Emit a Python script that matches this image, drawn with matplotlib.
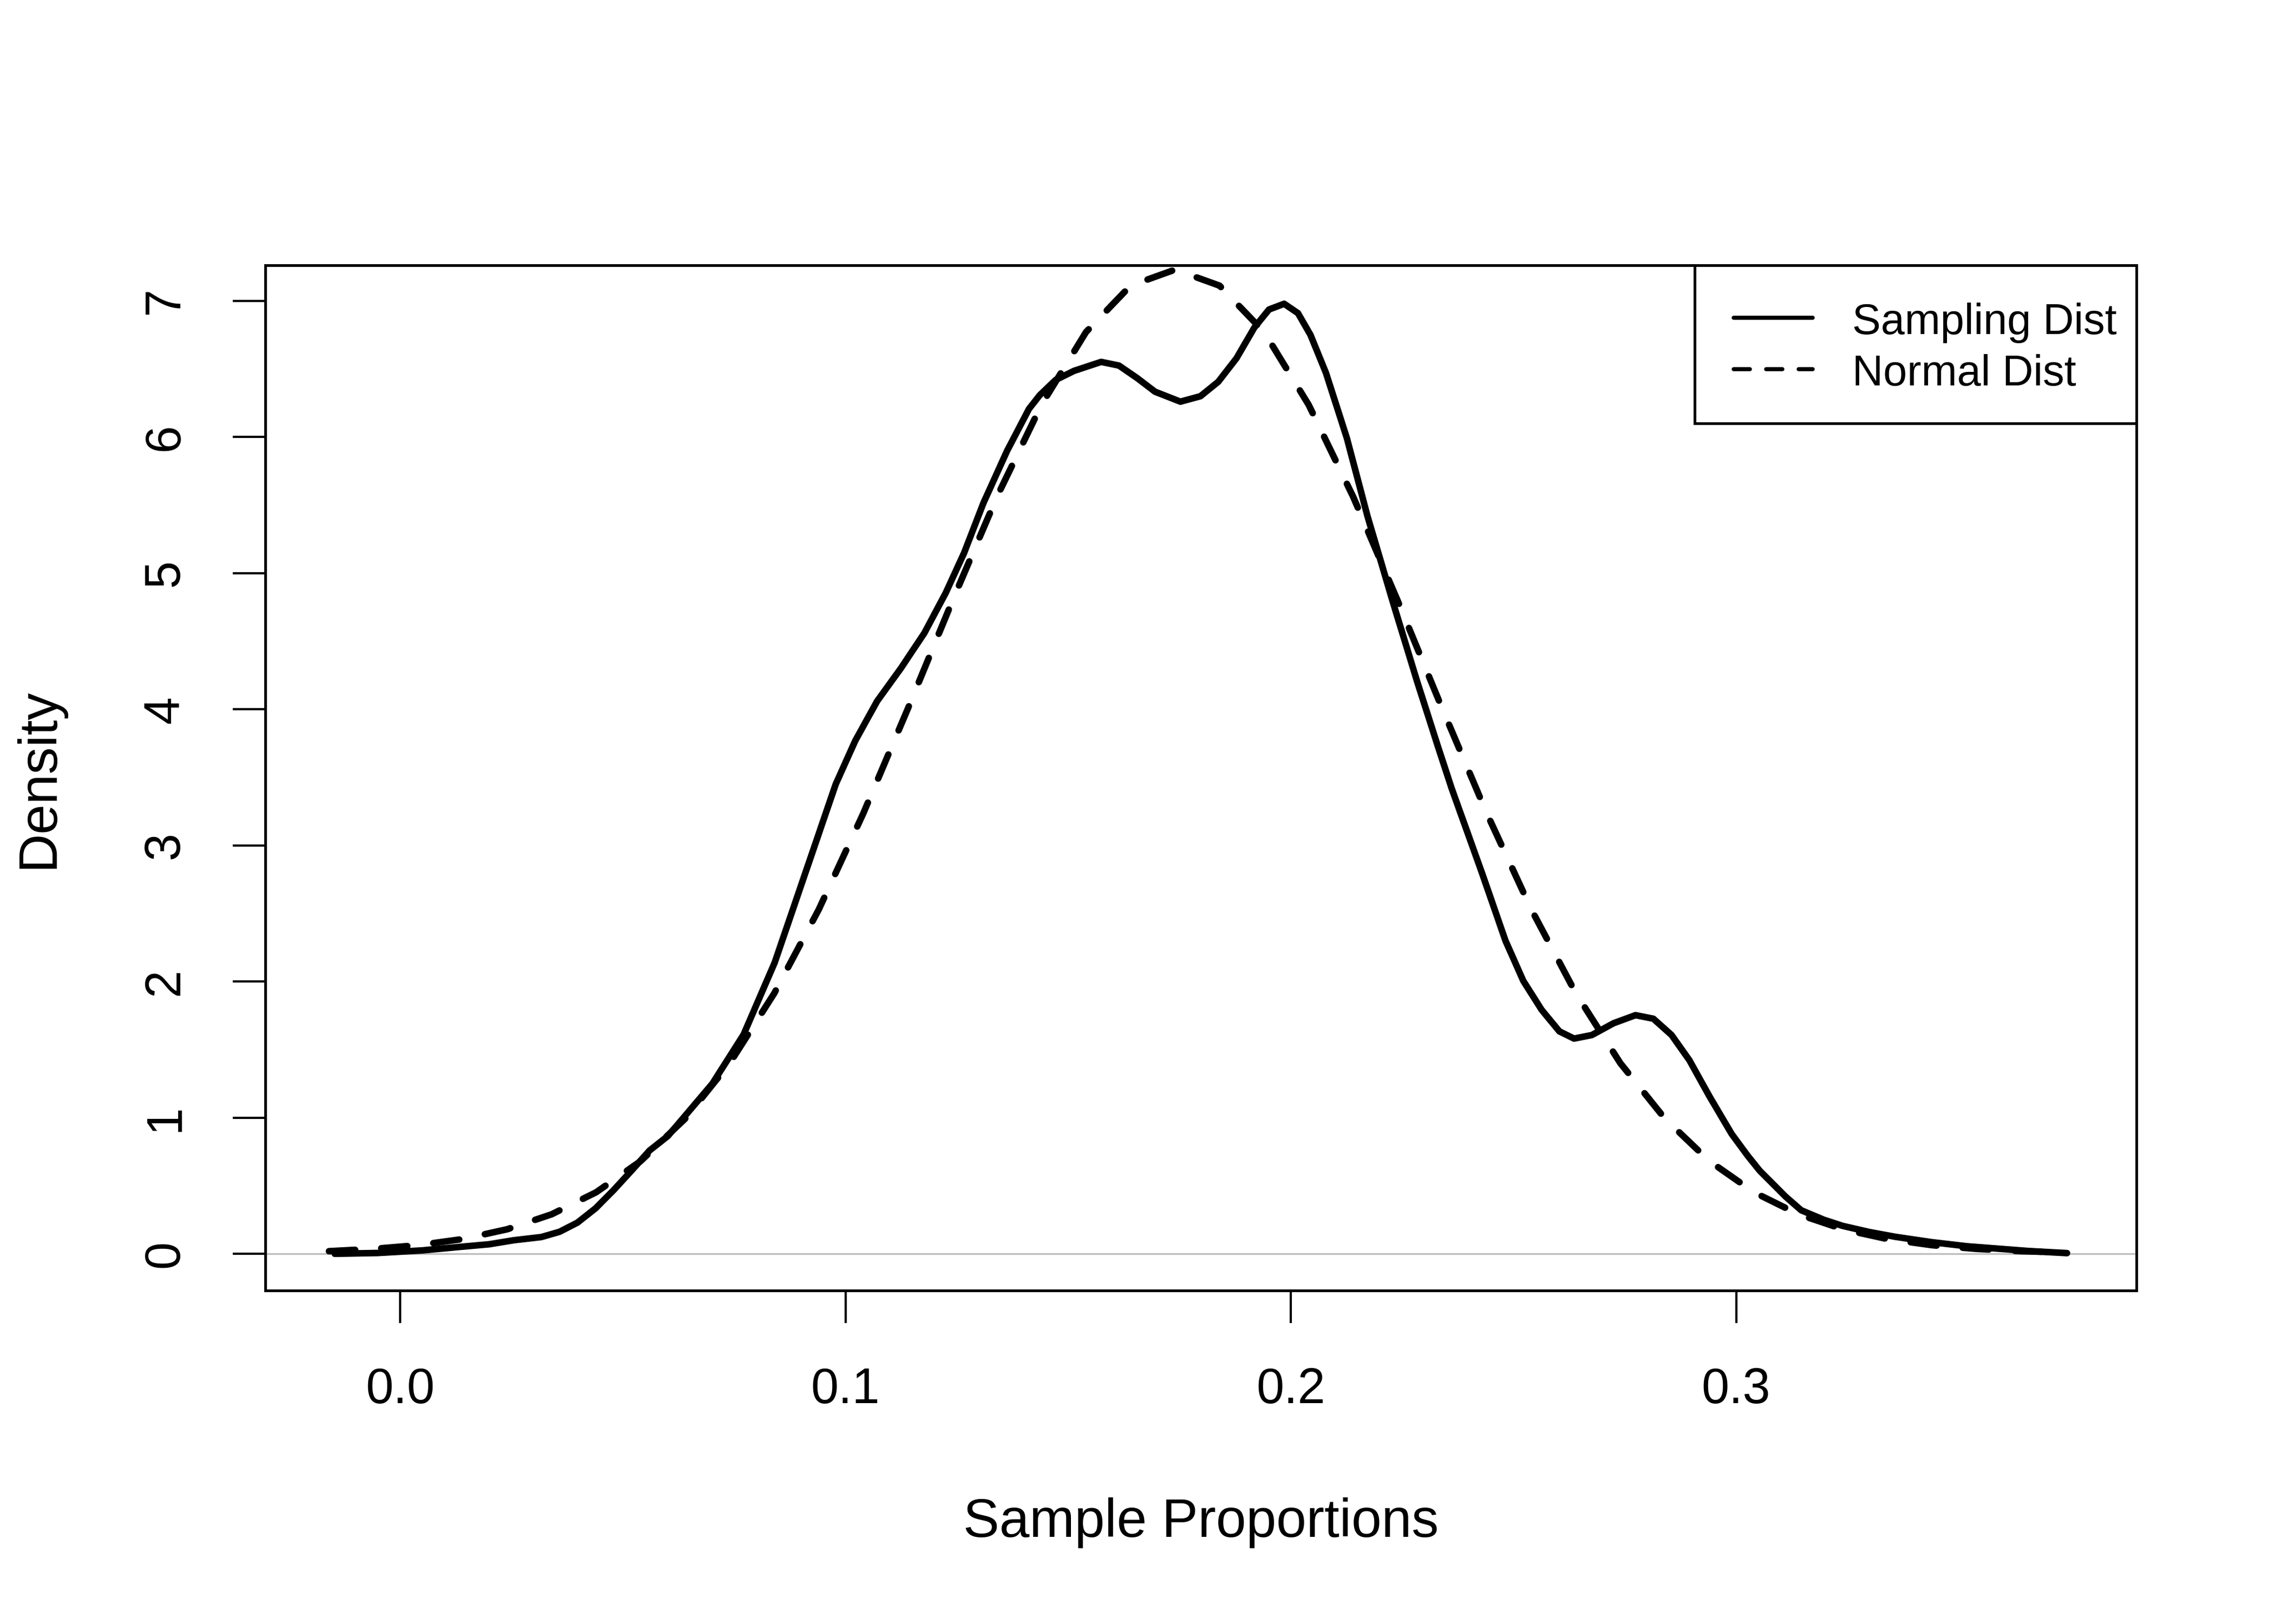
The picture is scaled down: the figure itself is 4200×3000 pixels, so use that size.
import matplotlib
matplotlib.use("Agg")
import matplotlib.pyplot as plt
from matplotlib.patches import Rectangle

plt.rcParams['font.family'] = ['Liberation Sans', 'DejaVu Sans']

# sampling distribution (kernel density)
samp_x = [-0.0147, -0.005, 0.005, 0.0132, 0.020, 0.0256, 0.0317, 0.0358, 0.0398, 0.0439,
          0.0479, 0.0520, 0.0560, 0.0601, 0.0631, 0.0701, 0.0771, 0.0841, 0.0910, 0.0978,
          0.1022, 0.1071, 0.1124, 0.1177, 0.1225, 0.1266, 0.1310, 0.1363, 0.1412, 0.1436,
          0.1472, 0.1513, 0.1574, 0.1614, 0.1655, 0.1695, 0.1752, 0.1797, 0.1837, 0.1878,
          0.1918, 0.1951, 0.1985, 0.2016, 0.2044, 0.2079, 0.2126, 0.2172, 0.2228, 0.2284,
          0.2330, 0.2361, 0.2429, 0.2482, 0.2522, 0.2563, 0.2603, 0.2636, 0.2676, 0.2725,
          0.2774, 0.2814, 0.2855, 0.2895, 0.2940, 0.2990, 0.3026, 0.3053, 0.3111, 0.3146,
          0.3197, 0.3239, 0.3299, 0.3357, 0.3440, 0.3519, 0.3658, 0.3743]
samp_y = [0.0, 0.006, 0.025, 0.05, 0.07, 0.10, 0.123, 0.162, 0.229, 0.335,
          0.467, 0.613, 0.759, 0.865, 0.98, 1.25, 1.61, 2.14, 2.80, 3.45,
          3.77, 4.06, 4.30, 4.56, 4.855, 5.147, 5.518, 5.90, 6.207, 6.307,
          6.42, 6.486, 6.552, 6.525, 6.433, 6.333, 6.26, 6.30, 6.406, 6.579,
          6.804, 6.937, 6.979, 6.91, 6.751, 6.47, 5.99, 5.42, 4.80, 4.20,
          3.73, 3.42, 2.80, 2.30, 2.005, 1.793, 1.634, 1.581, 1.607, 1.694,
          1.753, 1.727, 1.607, 1.422, 1.157, 0.88, 0.72, 0.61, 0.42, 0.32,
          0.25, 0.205, 0.16, 0.125, 0.085, 0.055, 0.02, 0.005]

# normal curve
norm_x = [-0.016, -0.006, 0.004, 0.014, 0.024, 0.034, 0.044, 0.054, 0.064, 0.074,
          0.084, 0.094, 0.104, 0.114, 0.124, 0.134, 0.144, 0.154, 0.164, 0.174,
          0.184, 0.194, 0.204, 0.214, 0.224, 0.234, 0.244, 0.254, 0.264, 0.274,
          0.284, 0.294, 0.304, 0.314, 0.324, 0.334, 0.344, 0.354, 0.364, 0.374]
norm_y = [0.019, 0.036, 0.063, 0.108, 0.180, 0.290, 0.452, 0.681, 0.993, 1.400,
          1.914, 2.530, 3.236, 4.005, 4.797, 5.561, 6.237, 6.771, 7.112, 7.230,
          7.112, 6.771, 6.237, 5.561, 4.797, 4.005, 3.236, 2.530, 1.914, 1.400,
          0.993, 0.681, 0.452, 0.290, 0.180, 0.108, 0.063, 0.036, 0.019, 0.010]

x_ticks = [0.0, 0.1, 0.2, 0.3]
x_labels = ["0.0", "0.1", "0.2", "0.3"]
y_ticks = [0, 1, 2, 3, 4, 5, 6, 7]
legend_labels = ["Sampling Dist", "Normal Dist"]

fig = plt.figure(figsize=(14, 10), dpi=300)
ax = fig.add_axes([490 / 4200, 1 - 2384 / 3000, 3456 / 4200, 1894 / 3000])

ax.axhline(0, color="#bebebe", lw=0.8, zorder=1)
ax.plot(samp_x, samp_y, color="black", lw=2.9, solid_capstyle="round",
        solid_joinstyle="round", zorder=3)
ax.plot(norm_x, norm_y, color="black", lw=2.9, linestyle=(0, (4, 4)),
        dash_capstyle="round", dash_joinstyle="round", zorder=3)

ax.set_xlim(-0.0303, 0.3899)
ax.set_ylim(-0.27, 7.262)
ax.set_xticks(x_ticks)
ax.set_xticklabels(x_labels)
ax.set_yticks(y_ticks)
ax.tick_params(direction="out", length=14.4, width=1.0, pad=19.5, labelsize=22)
ax.tick_params(axis="y", labelrotation=90)
for lab in ax.get_yticklabels():
    lab.set_va("center")
for sp in ax.spines.values():
    sp.set_linewidth(1.2)

ax.set_xlabel("Sample Proportions", fontsize=24, va="center")
ax.xaxis.set_label_coords(0.5, -0.2265)
ax.set_ylabel("Density", fontsize=24, va="center")
ax.yaxis.set_label_coords(-0.1209, 0.5)

# legend box in the top right corner, drawn like R's legend()
ax.add_patch(Rectangle((0.7639, 0.8458), 1 - 0.7639, 1 - 0.8458, transform=ax.transAxes,
                       fill=False, ec="black", lw=1.2, clip_on=False, zorder=4))
ax.plot([0.7847, 0.8270], [0.9488, 0.9488], transform=ax.transAxes, color="black",
        lw=1.8, solid_capstyle="round", zorder=4)
ax.plot([0.7847, 0.8270], [0.8986, 0.8986], transform=ax.transAxes, color="black",
        lw=1.8, linestyle=(0, (4, 4)), dash_capstyle="round", zorder=4)
ax.text(0.8481, 0.9329, legend_labels[0], transform=ax.transAxes, fontsize=19,
        va="baseline", ha="left", zorder=4)
ax.text(0.8481, 0.8828, legend_labels[1], transform=ax.transAxes, fontsize=19,
        va="baseline", ha="left", zorder=4)

fig.savefig("out.png", dpi=300, facecolor="white")
